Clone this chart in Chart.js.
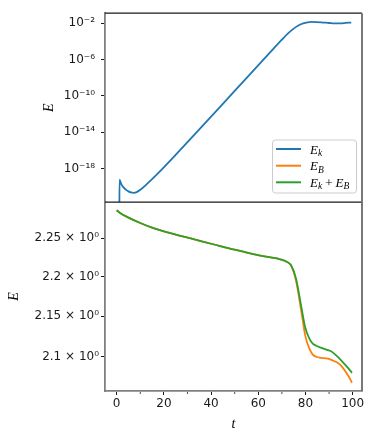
<!DOCTYPE html>
<html>
<head>
<meta charset="utf-8">
<script src="https://cdn.jsdelivr.net/npm/chart.js@4/dist/chart.umd.min.js"></script>
<style>
  html, body { margin: 0; padding: 0; background: #ffffff; }
  #wrap { width: 374px; height: 439px; position: relative; }
</style>
</head>
<body>
<div id="wrap"><canvas id="c"></canvas></div>
<script>
// ---- data ----
// kinetic energy E_k (top panel), stored as log10 values
const tEk = [1.1, 1.2, 2, 3, 4, 5, 6, 7.2, 8.5, 10, 12.2, 15, 18, 23.6, 35, 50, 65, 70, 72.5, 75, 77, 79, 82.4, 86.7, 90, 92.3, 95, 97, 99.4];
const ekLog10 = [-25, -19.22, -19.75, -20.1, -20.35, -20.52, -20.63, -20.68, -20.6, -20.35, -19.85, -19.17, -18.4, -16.88, -13.7, -9.46, -5.22, -3.82, -3.15, -2.6, -2.26, -2.03, -1.86, -1.9, -1.98, -2.03, -2.01, -1.97, -1.93];

// magnetic energy E_B and total E_k + E_B (bottom panel)
const tE = [0, 1.6, 5, 10, 15, 20, 27.1, 31.4, 41.3, 50, 60.4, 69.7, 72, 73.9, 76.0, 78.2, 79.9, 81.7, 83, 84.6, 86.5, 89.5, 90.7, 93.8, 95, 98, 99.7];
const eB = [2.287, 2.283, 2.2772, 2.27, 2.2638, 2.259, 2.2531, 2.2497, 2.2418, 2.235, 2.2276, 2.2222, 2.2195, 2.2145, 2.195, 2.157, 2.126, 2.1096, 2.103, 2.1, 2.0988, 2.0977, 2.0965, 2.0925, 2.0895, 2.0775, 2.0685];
const eTotal = [2.287, 2.283, 2.2772, 2.27, 2.2638, 2.259, 2.2531, 2.2497, 2.2418, 2.235, 2.2276, 2.2222, 2.2195, 2.2148, 2.1977, 2.1625, 2.136, 2.122, 2.1165, 2.1135, 2.1112, 2.1082, 2.107, 2.0995, 2.096, 2.0865, 2.0805];

// axis ticks
const xTicks = [0, 20, 40, 60, 80, 100];
const xMinorTicks = [10, 30, 50, 70, 90];
const topTickExp = [-18, -14, -10, -6, -2];
const botTickVals = [2.1, 2.15, 2.2, 2.25];
const botTickLabels = ['2.1', '2.15', '2.2', '2.25'];

const seriesNames = ['E_k', 'E_B', 'E_k + E_B'];
const colors = ['#1f77b4', '#ff7f0e', '#2ca02c'];

// ---- helpers ----
const SUP = {'-': '\u207B', '0': '\u2070', '1': '\u00B9', '2': '\u00B2', '3': '\u00B3', '4': '\u2074', '5': '\u2075', '6': '\u2076', '7': '\u2077', '8': '\u2078', '9': '\u2079'};
const sup = n => String(n).split('').map(c => SUP[c]).join('');
const pts = (xs, ys) => xs.map((x, i) => ({x: x, y: ys[i]}));

const tickFont = {family: 'DejaVu Sans', size: 12};
const mathFont = {family: 'Liberation Serif', style: 'italic', size: 14};
const SPINE_GRAY = '#808080';
const DARK = '#1a1a1a';

const framePlugin = {
  id: 'frame',
  afterDraw(chart) {
    const ctx = chart.ctx;
    const x = chart.scales.x, yt = chart.scales.yTop, yb = chart.scales.yBot;
    const L = x.left, R = x.right, T = yt.top, M = yt.bottom, B = yb.bottom;
    ctx.save();
    // top spine + middle divider
    ctx.strokeStyle = DARK; ctx.lineWidth = 1.2;
    ctx.beginPath();
    ctx.moveTo(L, T); ctx.lineTo(R, T);
    ctx.moveTo(L, M); ctx.lineTo(R, M);
    ctx.stroke();
    // right spine
    ctx.strokeStyle = '#6a6a6a'; ctx.lineWidth = 1.8;
    ctx.beginPath(); ctx.moveTo(R, T); ctx.lineTo(R, B); ctx.stroke();
    // minor x ticks
    ctx.strokeStyle = DARK; ctx.lineWidth = 0.8;
    ctx.beginPath();
    xMinorTicks.forEach(v => { const px = x.getPixelForValue(v); ctx.moveTo(px, B + 1); ctx.lineTo(px, B + 3); });
    ctx.stroke();

    // legend inside the top panel
    const bx = 272.5, by = 140, bw = 84, bh = 53, r = 3;
    ctx.fillStyle = 'rgba(255,255,255,0.85)';
    ctx.strokeStyle = '#cccccc'; ctx.lineWidth = 1;
    ctx.beginPath();
    ctx.moveTo(bx + r, by); ctx.lineTo(bx + bw - r, by); ctx.arcTo(bx + bw, by, bx + bw, by + r, r);
    ctx.lineTo(bx + bw, by + bh - r); ctx.arcTo(bx + bw, by + bh, bx + bw - r, by + bh, r);
    ctx.lineTo(bx + r, by + bh); ctx.arcTo(bx, by + bh, bx, by + bh - r, r);
    ctx.lineTo(bx, by + r); ctx.arcTo(bx, by, bx + r, by, r);
    ctx.closePath(); ctx.fill(); ctx.stroke();
    const rows = [149, 165.7, 182.3];
    rows.forEach((yy, i) => {
      ctx.strokeStyle = colors[i]; ctx.lineWidth = 2;
      ctx.beginPath(); ctx.moveTo(276, yy); ctx.lineTo(301, yy); ctx.stroke();
      drawMath(ctx, seriesNames[i], 310, yy);
    });
    ctx.restore();
  }
};

function drawMath(ctx, s, x, y) {
  // simple renderer for "E_k", "E_B", "E_k + E_B"
  ctx.fillStyle = '#000';
  ctx.textBaseline = 'alphabetic';
  ctx.textAlign = 'left';
  const base = y + 4.5;
  const parts = s.split(' ');
  let cx = x;
  parts.forEach(p => {
    if (p === '+') {
      ctx.font = '13px "Liberation Serif"';
      cx += 3;
      ctx.fillText('+', cx, base);
      cx += ctx.measureText('+').width + 3;
      return;
    }
    const [main, sub] = p.split('_');
    ctx.font = 'italic 13px "Liberation Serif"';
    ctx.fillText(main, cx, base);
    cx += ctx.measureText(main).width;
    if (sub) {
      ctx.font = 'italic 9.5px "Liberation Serif"';
      ctx.fillText(sub, cx, base + 2.5);
      cx += ctx.measureText(sub).width;
    }
  });
}

new Chart(document.getElementById('c'), {
  type: 'line',
  data: {
    datasets: [
      {label: seriesNames[0], data: pts(tEk, ekLog10.map(e => Math.pow(10, e))), yAxisID: 'yTop', borderColor: colors[0], order: 2},
      {label: seriesNames[1], data: pts(tE, eB), yAxisID: 'yBot', borderColor: colors[1], order: 1},
      {label: seriesNames[2], data: pts(tE, eTotal), yAxisID: 'yBot', borderColor: colors[2], order: 0}
    ]
  },
  options: {
    responsive: true,
    maintainAspectRatio: false,
    animation: false,
    elements: {
      line: {borderWidth: 1.8, cubicInterpolationMode: 'monotone', fill: false},
      point: {radius: 0, hoverRadius: 0}
    },
    layout: {padding: {left: 0, right: 12, top: 8, bottom: 0}},
    plugins: {legend: {display: false}, tooltip: {enabled: false}},
    scales: {
      x: {
        type: 'linear', position: 'bottom', min: -4.95, max: 103.95,
        afterBuildTicks: s => { s.ticks = xTicks.map(v => ({value: v})); },
        afterFit: s => { s.height = 48; },
        ticks: {font: tickFont, color: '#1a1a1a', padding: 2, maxRotation: 0, callback: v => String(v)},
        grid: {drawOnChartArea: false, drawTicks: true, tickLength: 4, tickColor: DARK, tickWidth: 1},
        border: {color: SPINE_GRAY, width: 1.8},
        title: {display: true, text: 't', font: mathFont, color: '#000', padding: {top: 0, bottom: 6}}
      },
      yTop: {
        type: 'logarithmic', position: 'left', stack: 'panels', stackWeight: 1, weight: 1,
        min: Math.pow(10, -21.7), max: Math.pow(10, -0.9),
        afterBuildTicks: s => { s.ticks = topTickExp.map(e => ({value: Math.pow(10, e)})); },
        afterFit: s => { s.width = 105; },
        ticks: {font: tickFont, color: '#1a1a1a', padding: 6, callback: v => '10' + sup(Math.round(Math.log10(v)))},
        grid: {drawOnChartArea: false, drawTicks: true, tickLength: 4, tickColor: DARK, tickWidth: 1},
        border: {color: SPINE_GRAY, width: 1.8},
        title: {display: true, text: 'E', font: mathFont, color: '#000', padding: {top: 41, bottom: 0}}
      },
      yBot: {
        type: 'logarithmic', position: 'left', stack: 'panels', stackWeight: 1, weight: 0,
        min: 2.0586, max: 2.2978,
        afterBuildTicks: s => { s.ticks = botTickVals.map(v => ({value: v})); },
        afterFit: s => { s.width = 105; },
        ticks: {font: tickFont, color: '#1a1a1a', padding: 2, callback: v => {
          const i = botTickVals.findIndex(b => Math.abs(b - v) < 1e-9);
          return (i >= 0 ? botTickLabels[i] : String(v)) + ' \u00D7 10' + sup(0);
        }},
        grid: {drawOnChartArea: false, drawTicks: true, tickLength: 4, tickColor: DARK, tickWidth: 1},
        border: {color: SPINE_GRAY, width: 1.8},
        title: {display: true, text: 'E', font: mathFont, color: '#000', padding: {top: 6, bottom: 0}}
      }
    }
  },
  plugins: [framePlugin]
});
</script>
</body>
</html>
